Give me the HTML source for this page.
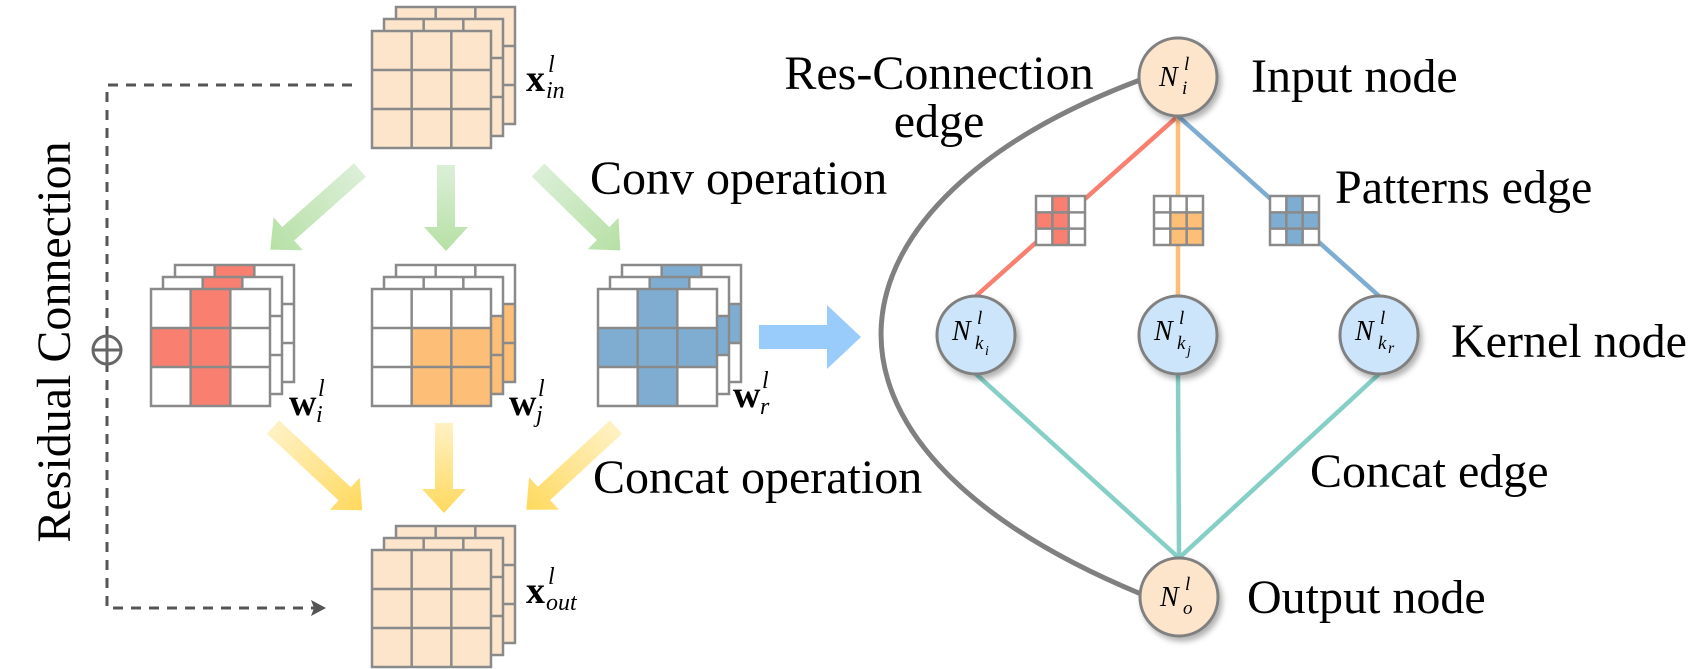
<!DOCTYPE html>
<html><head><meta charset="utf-8"><style>
html,body{margin:0;padding:0;background:#fff;}
svg{display:block;}
text{font-family:"Liberation Serif",serif;fill:#000;}
</style></head><body>
<svg width="1689" height="669" viewBox="0 0 1689 669" xmlns="http://www.w3.org/2000/svg">
<defs>
<linearGradient id="gg" x1="0" y1="0" x2="1" y2="0"><stop offset="0" stop-color="#dcefd8"/><stop offset="1" stop-color="#b6e0a5"/></linearGradient>
<linearGradient id="yg" x1="0" y1="0" x2="1" y2="0"><stop offset="0" stop-color="#fff1c4"/><stop offset="1" stop-color="#ffd95e"/></linearGradient>
<filter id="sh" x="-30%" y="-30%" width="170%" height="170%"><feDropShadow dx="3" dy="4" stdDeviation="3" flood-color="#000" flood-opacity="0.3"/></filter>
<path id="gl" d="M0,0H119V117H0Z M39.67,0V117 M79.33,0V117 M0,39H119 M0,78H119" fill="none" stroke="#8a8a8a" stroke-width="2.5" vector-effect="non-scaling-stroke"/>
<g id="Lp"><rect width="119" height="117" fill="#fde5cc"/><use href="#gl"/></g>
<g id="Li"><rect width="119" height="117" fill="#fff"/><rect x="39.67" y="0" width="39.67" height="117" fill="#f98070"/><rect x="0" y="39" width="39.67" height="39" fill="#f98070"/><use href="#gl"/></g>
<g id="Lj"><rect width="119" height="117" fill="#fff"/><rect x="39.67" y="39" width="79.33" height="78" fill="#fdbe78"/><use href="#gl"/></g>
<g id="Lr"><rect width="119" height="117" fill="#fff"/><rect x="39.67" y="0" width="39.67" height="117" fill="#7eadd1"/><rect x="0" y="39" width="119" height="39" fill="#7eadd1"/><use href="#gl"/></g>
</defs>

<!-- dashed residual -->
<path d="M352,85H107V608H318" fill="none" stroke="#555" stroke-width="3" stroke-dasharray="10 8"/>
<polygon points="326,608 311,600 314,608 311,616" fill="#555"/>
<circle cx="107" cy="350" r="14" fill="#fff" stroke="#666" stroke-width="3"/>
<path d="M93,350H121M107,336V364" stroke="#666" stroke-width="3"/>
<text x="70" y="342" font-size="48" text-anchor="middle" transform="rotate(-90 70 342)">Residual Connection</text>

<!-- tensors -->
<g transform="translate(396,7)"><use href="#Lp"/></g><g transform="translate(384,19)"><use href="#Lp"/></g><g transform="translate(372,31)"><use href="#Lp"/></g>
<g transform="translate(175,265)"><use href="#Li"/></g><g transform="translate(163,277)"><use href="#Li"/></g><g transform="translate(151,289)"><use href="#Li"/></g>
<g transform="translate(396,265)"><use href="#Lj"/></g><g transform="translate(384,277)"><use href="#Lj"/></g><g transform="translate(372,289)"><use href="#Lj"/></g>
<g transform="translate(622,265)"><use href="#Lr"/></g><g transform="translate(610,277)"><use href="#Lr"/></g><g transform="translate(598,289)"><use href="#Lr"/></g>
<g transform="translate(396,526)"><use href="#Lp"/></g><g transform="translate(384,538)"><use href="#Lp"/></g><g transform="translate(372,550)"><use href="#Lp"/></g>

<!-- math labels -->
<text x="526" y="91" font-size="38" font-weight="bold">x</text><text x="548" y="72" font-size="24" font-style="italic">l</text><text x="546" y="98" font-size="24" font-style="italic">in</text>
<text x="526" y="603" font-size="38" font-weight="bold">x</text><text x="548" y="584" font-size="24" font-style="italic">l</text><text x="546" y="610" font-size="24" font-style="italic">out</text>
<text x="289" y="415" font-size="38" font-weight="bold">w</text><text x="318" y="396" font-size="24" font-style="italic">l</text><text x="316" y="422" font-size="24" font-style="italic">i</text>
<text x="509" y="415" font-size="38" font-weight="bold">w</text><text x="538" y="396" font-size="24" font-style="italic">l</text><text x="536" y="422" font-size="24" font-style="italic">j</text>
<text x="733" y="407" font-size="38" font-weight="bold">w</text><text x="762" y="388" font-size="24" font-style="italic">l</text><text x="760" y="414" font-size="24" font-style="italic">r</text>

<!-- arrows -->
<g transform="translate(446,165) rotate(90)"><path d="M0,-9H62V-22L86,0L62,22V9H0Z" fill="url(#gg)"/></g>
<g transform="translate(360,170) rotate(138.4)"><path d="M0,-9H96V-22L120,0L96,22V9H0Z" fill="url(#gg)"/></g>
<g transform="translate(538,170) rotate(44.3)"><path d="M0,-9H91V-22L115,0L91,22V9H0Z" fill="url(#gg)"/></g>
<g transform="translate(273,427) rotate(43)"><path d="M0,-9H98V-22L122,0L98,22V9H0Z" fill="url(#yg)"/></g>
<g transform="translate(444,423) rotate(90)"><path d="M0,-9H66V-22L90,0L66,22V9H0Z" fill="url(#yg)"/></g>
<g transform="translate(616,427) rotate(137.3)"><path d="M0,-9H98V-22L122,0L98,22V9H0Z" fill="url(#yg)"/></g>
<polygon points="759,325 827,325 827,305 861,337 827,369 827,349 759,349" fill="#99ccfa"/>

<text x="590" y="194" font-size="48">Conv operation</text>
<text x="593" y="493" font-size="48">Concat operation</text>

<!-- graph -->
<path d="M1140,80 C820,200 770,440 1141,594" fill="none" stroke="#808080" stroke-width="5"/>
<line x1="1178" y1="116" x2="976" y2="296" stroke="#f98070" stroke-width="4.5"/>
<line x1="1178" y1="116" x2="1178" y2="296" stroke="#fdbe78" stroke-width="4.5"/>
<line x1="1178" y1="116" x2="1379" y2="296" stroke="#7eadd1" stroke-width="4.5"/>
<line x1="976" y1="374" x2="1179" y2="558" stroke="#86cfc6" stroke-width="4.5"/>
<line x1="1178" y1="374" x2="1179" y2="558" stroke="#86cfc6" stroke-width="4.5"/>
<line x1="1379" y1="374" x2="1179" y2="558" stroke="#86cfc6" stroke-width="4.5"/>

<g transform="translate(1036,196) scale(0.4118,0.4188)"><use href="#Li"/></g>
<g transform="translate(1154,196) scale(0.4118,0.4188)"><use href="#Lj"/></g>
<g transform="translate(1270,196) scale(0.4118,0.4188)"><use href="#Lr"/></g>

<g filter="url(#sh)">
<circle cx="1178" cy="77" r="39" fill="#fde5cc" stroke="#808080" stroke-width="3"/>
<circle cx="976" cy="335" r="39" fill="#cce5fb" stroke="#808080" stroke-width="3"/>
<circle cx="1178" cy="335" r="39" fill="#cce5fb" stroke="#808080" stroke-width="3"/>
<circle cx="1379" cy="335" r="39" fill="#cce5fb" stroke="#808080" stroke-width="3"/>
<circle cx="1179" cy="597" r="39" fill="#fde5cc" stroke="#808080" stroke-width="3"/>
</g>
<g font-style="italic">
<text x="1159" y="86" font-size="28">N</text><text x="1184" y="70" font-size="19">l</text><text x="1182" y="94" font-size="19">i</text>
<text x="1160" y="606" font-size="28">N</text><text x="1185" y="590" font-size="19">l</text><text x="1183" y="614" font-size="19">o</text>
<text x="952" y="340" font-size="28">N</text><text x="977" y="324" font-size="19">l</text><text x="975" y="349" font-size="19">k</text><text x="985" y="355" font-size="14">i</text>
<text x="1154" y="340" font-size="28">N</text><text x="1179" y="324" font-size="19">l</text><text x="1177" y="349" font-size="19">k</text><text x="1187" y="355" font-size="14">j</text>
<text x="1355" y="340" font-size="28">N</text><text x="1380" y="324" font-size="19">l</text><text x="1378" y="349" font-size="19">k</text><text x="1388" y="353" font-size="16">r</text>
</g>

<text x="939" y="89" font-size="48" text-anchor="middle">Res-Connection</text>
<text x="939" y="137" font-size="48" text-anchor="middle">edge</text>
<text x="1251" y="92" font-size="48">Input node</text>
<text x="1335" y="203" font-size="48">Patterns edge</text>
<text x="1451" y="357" font-size="48">Kernel node</text>
<text x="1310" y="487" font-size="48">Concat edge</text>
<text x="1247" y="613" font-size="48">Output node</text>
</svg>
</body></html>
